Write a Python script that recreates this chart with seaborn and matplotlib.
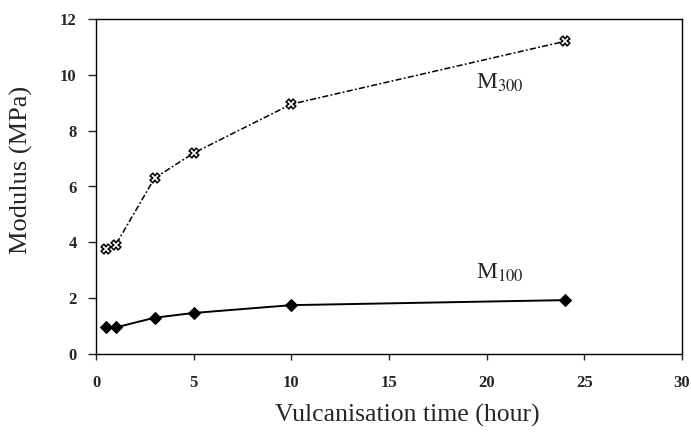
import matplotlib
matplotlib.use("Agg")
import matplotlib.pyplot as plt
import seaborn as sns
import pandas as pd

time_h = [0.5, 1, 3, 5, 10, 24]
m300 = [3.75, 3.9, 6.3, 7.2, 8.95, 11.2]
m100 = [0.95, 0.95, 1.3, 1.47, 1.75, 1.93]
xticks = [0, 5, 10, 15, 20, 25, 30]
yticks = [0, 2, 4, 6, 8, 10, 12]

sns.set_theme(style="white")
plt.rcParams['font.family'] = ['Liberation Serif', 'DejaVu Serif']
plt.rcParams['mathtext.fontset'] = 'stix'

df = pd.DataFrame({"time": time_h, "M300": m300, "M100": m100})

fig = plt.figure(figsize=(6.91, 4.36), dpi=100)
ax = fig.add_axes([96 / 691, 1 - 354 / 436, 586 / 691, 335 / 436])

sns.lineplot(data=df, x="time", y="M300", ax=ax, color="black", lw=1.1,
             marker="X", markersize=7, markerfacecolor="white",
             markeredgecolor="black", markeredgewidth=1.1)
ax.lines[-1].set_linestyle((0, (4, 1.5, 1.2, 1.5)))
sns.lineplot(data=df, x="time", y="M100", ax=ax, color="black", lw=1.4,
             marker="D", markersize=6.5, markerfacecolor="black",
             markeredgecolor="black")

ax.set_xlim(0, 30)
ax.set_ylim(0, 12)
ax.set_xticks(xticks)
ax.set_yticks(yticks)
ax.tick_params(axis="x", direction="out", length=4, width=1,
               bottom=True, labelsize=12, pad=11)
ax.tick_params(axis="y", direction="out", length=6, width=1,
               left=True, labelsize=12, pad=8)
for lab in ax.get_xticklabels() + ax.get_yticklabels():
    lab.set_fontweight("bold")
for sp in ax.spines.values():
    sp.set_color("black")
    sp.set_linewidth(1.0)

ax.set_xlabel("Vulcanisation time (hour)", fontsize=18.5)
ax.set_ylabel("Modulus (MPa)", fontsize=19)
ax.xaxis.set_label_coords(0.532, -0.148)
ax.yaxis.set_label_coords(-0.107, 0.548)

ax.text(19.44, 9.5, r"M$_{300}$", fontsize=17, ha="left", va="baseline")
ax.text(19.44, 2.71, r"M$_{100}$", fontsize=17, ha="left", va="baseline")

fig.savefig("out.png", dpi=100)
